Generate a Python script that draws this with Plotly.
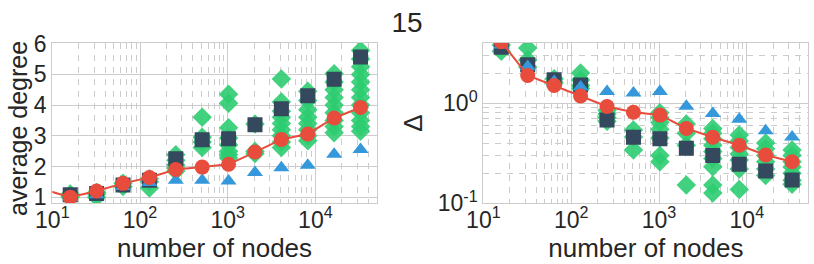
import plotly.graph_objects as go

# ---------------- data ----------------
nodes = [16, 32, 64, 128, 256, 512, 1024, 2048, 4096, 8192, 16384, 32768]
line_nodes = [8] + nodes

# left panel: average degree
deg_red = [1.25, 1.0, 1.2, 1.45, 1.64, 1.9, 1.98, 2.07, 2.47, 2.88, 3.06, 3.58, 3.92]
deg_square = [1.08, 1.12, 1.4, 1.55, 2.25, 2.87, 2.9, 3.36, 3.88, 4.3, 4.84, 5.57]
deg_triangle = [1.0, 1.08, 1.35, 1.48, 1.55, 1.55, 1.53, 1.8, 1.96, 2.04, 2.4, 2.55]
deg_green = [
    [1.0, 1.05, 1.1],
    [1.0, 1.1, 1.15],
    [1.35, 1.45],
    [1.3, 1.5, 1.6],
    [2.38, 2.2, 2.05, 1.95, 1.85],
    [3.6, 2.95, 2.8, 2.62],
    [4.35, 4.06, 3.26, 2.93, 2.7, 2.5, 2.38, 2.28],
    [3.38, 2.5, 2.42],
    [4.85, 4.1, 3.8, 3.6, 3.4, 3.2, 3.0, 2.8, 2.62],
    [4.45, 4.15, 3.85, 3.6, 3.4, 3.2, 3.0, 2.84],
    [5.02, 4.75, 4.5, 4.25, 4.0, 3.75, 3.5, 3.3, 3.1],
    [5.78, 5.5, 5.25, 5.0, 4.75, 4.5, 4.25, 4.0, 3.75, 3.5, 3.3, 3.15],
]

# right panel: Delta
dl_red = [6.0, 4.1, 1.89, 1.5, 1.18, 0.925, 0.81, 0.76, 0.56, 0.457, 0.38, 0.304, 0.26]
dl_square = [3.62, 2.42, 1.71, 1.52, 0.68, 0.457, 0.44, 0.355, 0.3, 0.245, 0.21, 0.171]
dl_triangle = [3.8, 2.32, 1.65, 1.45, 1.31, 1.26, 1.31, 0.93, 0.79, 0.69, 0.53, 0.46]
dl_green = [
    [3.3, 3.8],
    [3.55, 2.7, 2.3],
    [1.75, 1.6],
    [2.0, 1.7, 1.5, 1.4],
    [0.85, 0.78, 0.72, 0.66],
    [0.54, 0.46, 0.34],
    [0.8, 0.72, 0.64, 0.55, 0.45, 0.3, 0.26],
    [0.62, 0.5, 0.38, 0.152],
    [0.56, 0.5, 0.44, 0.38, 0.33, 0.28, 0.232, 0.152, 0.127],
    [0.48, 0.42, 0.36, 0.31, 0.27, 0.22, 0.137],
    [0.4, 0.35, 0.3, 0.26, 0.22, 0.19],
    [0.34, 0.3, 0.26, 0.23, 0.2, 0.17, 0.155],
]

x_tickvals = [10, 100, 1000, 10000]
x_ticktext = ["10<sup>1</sup>", "10<sup>2</sup>", "10<sup>3</sup>", "10<sup>4</sup>"]
y_left_ticks = [1, 2, 3, 4, 5, 6]
y_right_tickvals = [0.1, 1]
y_right_ticktext = ["10<sup>-1</sup>", "10<sup>0</sup>"]

title_text = "15"
x_label = "number of nodes"
y_label_left = "average degree"
y_label_right = "Δ"

# ---------------- styling ----------------
GREEN = "#2ecc71"
DARK = "#34495e"
BLUE = "#3498db"
RED = "#e74c3c"
GRID = "#cccccc"
TXT = "#262626"
FONT = "Liberation Sans, Arial, sans-serif"

minor_vals = [d * 10 ** k for k in range(0, 6) for d in range(2, 10)]

fig = go.Figure()


def add_panel(xa, ya, green, square, tri, red):
    gx, gy = [], []
    for n, vals in zip(nodes, green):
        for v in vals:
            gx.append(n)
            gy.append(v)
    fig.add_trace(go.Scatter(x=gx, y=gy, xaxis=xa, yaxis=ya, mode="markers",
                             marker=dict(symbol="diamond", size=15, color=GREEN,
                                         opacity=0.9, line=dict(width=0)),
                             showlegend=False))
    fig.add_trace(go.Scatter(x=nodes, y=square, xaxis=xa, yaxis=ya, mode="markers",
                             marker=dict(symbol="square", size=15, color=DARK,
                                         line=dict(width=0)),
                             showlegend=False))
    fig.add_trace(go.Scatter(x=nodes, y=tri, xaxis=xa, yaxis=ya, mode="markers",
                             marker=dict(symbol="triangle-up", size=14, color=BLUE,
                                         line=dict(width=0)),
                             showlegend=False))
    fig.add_trace(go.Scatter(x=line_nodes, y=red, xaxis=xa, yaxis=ya, mode="lines+markers",
                             line=dict(color=RED, width=2),
                             marker=dict(symbol="circle", size=15, color=RED,
                                         line=dict(width=0)),
                             showlegend=False))


add_panel("x", "y", deg_green, deg_square, deg_triangle, deg_red)
add_panel("x2", "y2", dl_green, dl_square, dl_triangle, dl_red)

axis_common = dict(showline=True, mirror=True, linecolor=GRID, linewidth=1.3,
                   showgrid=True, gridcolor=GRID, gridwidth=1, ticks="",
                   automargin=False,
                   zeroline=False, tickfont=dict(size=23, color=TXT, family=FONT))

xaxis_cfg = dict(axis_common, type="log", range=[1, 4.70],
                 tickmode="array", tickvals=x_tickvals, ticktext=x_ticktext,
                 ticklabelstandoff=-4,
                 title=dict(text=x_label, font=dict(size=26, color=TXT, family=FONT), standoff=0),
                 minor=dict(tickmode="array", tickvals=minor_vals, showgrid=True,
                            gridcolor=GRID, gridwidth=1, griddash="6px,6px"))

fig.update_layout(
    width=814, height=264,
    margin=dict(l=0, r=0, t=0, b=0, autoexpand=False),
    paper_bgcolor="white", plot_bgcolor="white",
    font=dict(family=FONT, color=TXT),
    title=dict(text=title_text, x=0.5, xanchor="center", y=0.915, yanchor="middle",
               automargin=False,
               font=dict(size=28, color=TXT, family=FONT)),
    xaxis=dict(xaxis_cfg, domain=[0.0643, 0.4628], anchor="y"),
    yaxis=dict(axis_common, domain=[0.2299, 0.838], anchor="x", range=[0.8, 6.03],
               tickmode="array", tickvals=y_left_ticks),
    xaxis2=dict(xaxis_cfg, domain=[0.5938, 0.993], anchor="y2"),
    yaxis2=dict(axis_common, type="log", domain=[0.2299, 0.838], anchor="x2", range=[-1, 0.603],
                tickmode="array", tickvals=y_right_tickvals, ticktext=y_right_ticktext,
                title=dict(text=y_label_right, font=dict(size=26, color=TXT, family=FONT), standoff=7),
                minor=dict(tickmode="array", tickvals=[v / 1000 for v in minor_vals], showgrid=True,
                           gridcolor=GRID, gridwidth=1, griddash="6px,6px")),
    annotations=[dict(text=y_label_left, xref="paper", yref="paper", x=18 / 814, y=1 - 129 / 264,
                      xanchor="center", yanchor="middle", textangle=-90, showarrow=False,
                      font=dict(size=25, color=TXT, family=FONT))],
)

fig.write_html("out.html", config={"displayModeBar": False},
               post_script="document.body.style.margin='0';")
